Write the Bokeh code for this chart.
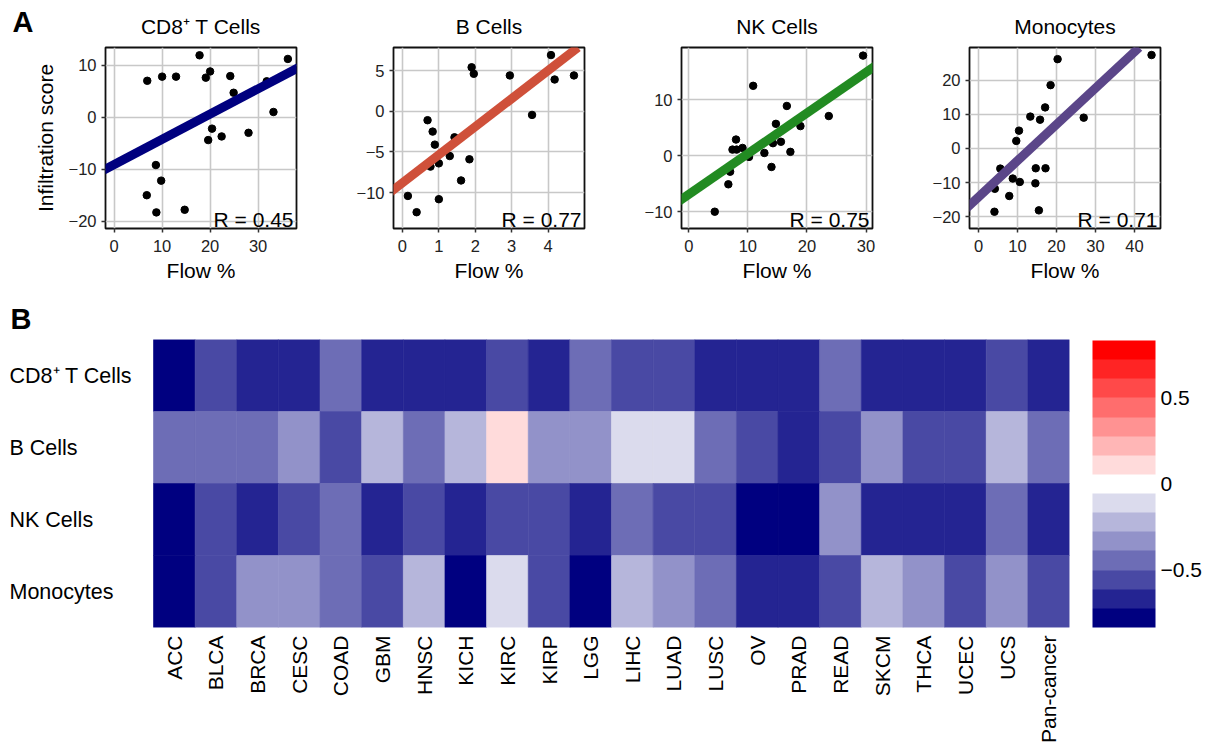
import math
from bokeh.plotting import figure
from bokeh.models import (Range1d, FixedTicker, Slope, Label, LinearColorMapper,
                          ColorBar, ColumnDataSource, Title)
from bokeh.layouts import column, row
from bokeh.transform import transform
from bokeh.embed import file_html
from bokeh.resources import INLINE
from bokeh.core.properties import value

FONT = "Liberation Sans"

# ---------------- Panel A data ----------------
panel_titles = ["CD8\u207a T Cells", "B Cells", "NK Cells", "Monocytes"]

cd8_flow = [6.9, 10.0, 12.9, 17.8, 19.1, 20.0, 24.2, 24.9, 36.2, 33.2, 31.8,
            20.4, 19.6, 22.4, 28.0, 8.7, 9.8, 6.8, 8.8, 14.7]
cd8_score = [7.0, 7.8, 7.8, 11.9, 7.6, 8.8, 7.9, 4.7, 11.2, 1.0, 6.9,
             -2.2, -4.4, -3.7, -3.0, -9.2, -12.2, -15.0, -18.3, -17.8]

b_flow = [0.15, 0.39, 0.69, 0.83, 0.89, 0.77, 1.0, 1.0, 1.3, 1.43, 1.61, 1.84,
          1.9, 1.96, 2.95, 3.56, 4.08, 4.18, 4.71]
b_score = [-10.4, -12.4, -1.1, -2.5, -4.1, -6.8, -6.4, -10.8, -5.5, -3.2, -8.5,
           -5.9, 5.4, 4.6, 4.4, -0.45, 6.9, 3.9, 4.4]

nk_flow = [4.4, 6.7, 7.0, 7.4, 8.0, 8.1, 9.1, 10.2, 10.9, 12.8, 14.0, 14.25,
           14.75, 15.6, 16.6, 17.2, 18.9, 23.7, 29.5]
nk_score = [-10.0, -5.1, -2.85, 1.1, 2.9, 1.1, 1.4, -0.2, 12.5, 0.5, -2.0, 2.25,
            5.7, 2.5, 8.9, 0.7, 5.3, 7.1, 17.9]

mono_flow = [4.1, 4.2, 5.6, 7.9, 8.8, 9.7, 10.4, 10.6, 13.3, 14.7, 14.6, 15.5,
             15.8, 17.1, 17.2, 18.5, 20.3, 27.0, 44.4]
mono_score = [-18.5, -11.8, -5.9, -13.9, -8.8, 2.2, 5.2, -9.8, 9.3, -5.8, -10.2,
              -18.1, 8.4, 12.0, -5.8, 18.5, 26.1, 9.0, 27.3]

panel_flow = [cd8_flow, b_flow, nk_flow, mono_flow]
panel_score = [cd8_score, b_score, nk_score, mono_score]

fit_slope = [0.485, 3.45, 0.727, 1.06]
fit_intercept = [-9.1, -8.8, -6.9, -14.2]
r_values = ["0.45", "0.77", "0.75", "0.71"]
line_colors = ["#00007F", "#CF503A", "#228B22", "#5B4689"]

x_ticks = [[0, 10, 20, 30], [0, 1, 2, 3, 4], [0, 10, 20, 30], [0, 10, 20, 30, 40]]
y_ticks = [[-20, -10, 0, 10], [-10, -5, 0, 5], [-10, 0, 10], [-20, -10, 0, 10, 20]]
x_limits = [(-1.8, 38.0), (-0.245, 5.0), (-1.23, 31.1), (-2.3, 46.7)]
y_limits = [(-21.4, 13.4), (-14.4, 7.83), (-13.0, 19.35), (-23.4, 29.5)]

# ---------------- Panel B data ----------------
cancers = ["ACC", "BLCA", "BRCA", "CESC", "COAD", "GBM", "HNSC", "KICH", "KIRC",
           "KIRP", "LGG", "LIHC", "LUAD", "LUSC", "OV", "PRAD", "READ", "SKCM",
           "THCA", "UCEC", "UCS", "Pan-cancer"]
cell_types = ["CD8\u207a T Cells", "B Cells", "NK Cells", "Monocytes"]
cd8_corr = [-0.78, -0.56, -0.67, -0.67, -0.44, -0.67, -0.67, -0.67, -0.56, -0.67, -0.44,
            -0.56, -0.56, -0.67, -0.67, -0.67, -0.44, -0.67, -0.67, -0.67, -0.56, -0.67]
b_corr = [-0.44, -0.44, -0.44, -0.33, -0.56, -0.22, -0.44, -0.22, 0.11, -0.33, -0.33,
          -0.11, -0.11, -0.44, -0.56, -0.67, -0.56, -0.33, -0.56, -0.56, -0.22, -0.44]
nk_corr = [-0.78, -0.56, -0.67, -0.56, -0.44, -0.67, -0.56, -0.67, -0.56, -0.56, -0.67,
           -0.44, -0.56, -0.56, -0.78, -0.78, -0.33, -0.67, -0.67, -0.67, -0.44, -0.67]
mono_corr = [-0.78, -0.56, -0.33, -0.33, -0.44, -0.56, -0.22, -0.78, -0.11, -0.56, -0.78,
             -0.22, -0.33, -0.44, -0.67, -0.67, -0.56, -0.22, -0.33, -0.56, -0.33, -0.56]
corr_rows = [cd8_corr, b_corr, nk_corr, mono_corr]
palette15 = ["#000080", "#242492", "#4949A4", "#6D6DB6", "#9292C9", "#B6B6DB",
             "#DBDBED", "#FFFFFF", "#FFDBDB", "#FFB6B6", "#FF9292", "#FF6D6D",
             "#FF4949", "#FF2424", "#FF0000"]
legend_ticks = [-0.5, 0, 0.5]


def fmt(t):
    return ("\u2212" + str(abs(t))) if t < 0 else str(t)


def scatter_panel(i):
    p = figure(frame_width=191, frame_height=181,
               min_border_left=105 if i == 0 else 91, min_border_right=6,
               min_border_top=47, min_border_bottom=62,
               x_range=Range1d(*x_limits[i]), y_range=Range1d(*y_limits[i]),
               output_backend="svg", toolbar_location=None)
    p.add_layout(Title(text=panel_titles[i], align="center", standoff=20,
                       text_font=FONT, text_font_size="21px",
                       text_font_style="normal", text_color="black"), "above")
    if i == 0:
        p.title = Title(text="A", align="left", offset=-93, standoff=-70,
                        text_font=FONT, text_font_size="29px",
                        text_font_style="bold", text_color="black")
    for ax, ticks in ((p.xaxis, x_ticks[i]), (p.yaxis, y_ticks[i])):
        ax.ticker = FixedTicker(ticks=ticks)
        ax.major_label_overrides = {t: fmt(t) for t in ticks}
        ax.axis_line_color = None
        ax.major_tick_line_color = "#333333"
        ax.major_tick_line_width = 1.5
        ax.major_tick_out = 4
        ax.major_tick_in = 0
        ax.minor_tick_line_color = None
        ax.major_label_text_font = FONT
        ax.major_label_text_font_size = "16.5px"
        ax.major_label_text_color = "#222222"
        ax.axis_label_text_font = FONT
        ax.axis_label_text_font_size = "21px"
        ax.axis_label_text_font_style = "normal"
        ax.axis_label_text_color = "black"
    p.xaxis.major_label_standoff = 7
    p.xaxis.axis_label_standoff = 4
    p.yaxis.major_label_standoff = 5
    p.yaxis.axis_label_standoff = 9
    p.xaxis.axis_label = "Flow %"
    if i == 0:
        p.yaxis.axis_label = "Infiltration score"
    p.xgrid.ticker = FixedTicker(ticks=x_ticks[i])
    p.ygrid.ticker = FixedTicker(ticks=y_ticks[i])
    p.grid.grid_line_color = "#C8C8C8"
    p.grid.grid_line_width = 1.6
    p.outline_line_color = "#111111"
    p.outline_line_width = 1.8
    p.background_fill_color = "white"

    p.scatter(panel_flow[i], panel_score[i], size=7.5, color="black")
    p.add_layout(Slope(gradient=fit_slope[i], y_intercept=fit_intercept[i],
                       line_color=line_colors[i], line_width=9))
    p.add_layout(Label(x=x_limits[i][1], y=y_limits[i][0], text="R = " + r_values[i],
                       text_align="right", text_baseline="bottom",
                       x_offset=-3, y_offset=-2.5, text_font=FONT,
                       text_font_size="21px", text_color="black"))
    return p


panels = [scatter_panel(i) for i in range(4)]

# ---------------- heatmap ----------------
n = len(cancers)
cell_px = 916 / n
label_px = 145
x_start = -label_px / cell_px

xs, ys, vals = [], [], []
for r, rowvals in enumerate(corr_rows):
    for c, v in enumerate(rowvals):
        xs.append(c + 0.5)
        ys.append(len(corr_rows) - r - 0.5)
        vals.append(v)
src = ColumnDataSource(dict(x=xs, y=ys, value=vals))

mapper = LinearColorMapper(palette=palette15, low=-5 / 6, high=5 / 6)

hm = figure(frame_width=label_px + 916, frame_height=288,
            x_range=Range1d(x_start, n), y_range=Range1d(0, len(corr_rows)),
            min_border_left=8, min_border_top=49, min_border_bottom=115,
            min_border_right=130, y_axis_location=None,
            output_backend="svg", toolbar_location=None)
hm.title = Title(text="B", align="left", offset=2, standoff=9,
                 text_font=FONT, text_font_size="29px",
                 text_font_style="bold", text_color="black")
hm.rect(x="x", y="y", width=1, height=1, source=src,
        fill_color=transform("value", mapper),
        line_color=transform("value", mapper), line_width=0.6)
hm.text(x=[x_start] * len(cell_types),
        y=[len(cell_types) - k - 0.5 for k in range(len(cell_types))],
        text=cell_types, text_align="left", text_baseline="middle",
        x_offset=1, text_font=value(FONT), text_font_size="21.5px", text_color="black")
hm.xaxis.ticker = FixedTicker(ticks=[c + 0.5 for c in range(n)])
hm.xaxis.major_label_overrides = {c + 0.5: name for c, name in enumerate(cancers)}
hm.xaxis.major_label_orientation = math.pi / 2
hm.xaxis.axis_line_color = None
hm.xaxis.major_tick_line_color = None
hm.xaxis.minor_tick_line_color = None
hm.xaxis.major_tick_out = 0
hm.xaxis.major_tick_in = 0
hm.xaxis.major_label_standoff = 8
hm.xaxis.major_label_text_font = FONT
hm.xaxis.major_label_text_font_size = "21px"
hm.xaxis.major_label_text_color = "black"
hm.grid.visible = False
hm.outline_line_color = None

cb = ColorBar(color_mapper=mapper, ticker=FixedTicker(ticks=legend_ticks),
              major_label_overrides={t: fmt(t) for t in legend_ticks},
              width=63, height=287, location=(23, 0), padding=0, margin=0,
              major_tick_line_color=None, minor_tick_line_color=None,
              bar_line_color=None, border_line_color=None,
              major_label_text_font=FONT, major_label_text_font_size="21px",
              major_label_text_color="black", label_standoff=5)
hm.add_layout(cb, "right")

layout = column(row(*panels), hm)
open("out.html", "w").write(file_html(layout, INLINE))
